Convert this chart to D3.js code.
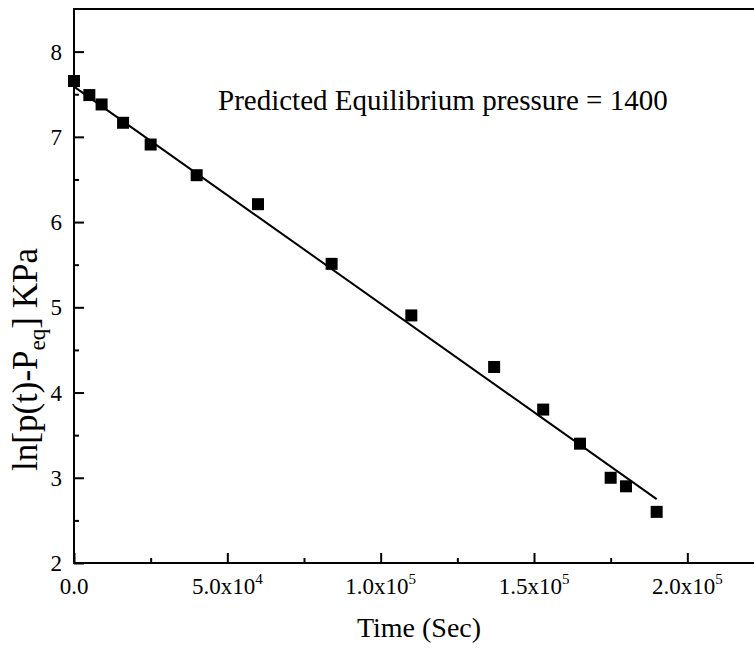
<!DOCTYPE html>
<html><head><meta charset="utf-8">
<script src="https://cdn.jsdelivr.net/npm/d3@7"></script>
<style>
html,body{margin:0;padding:0;background:#fff;}
svg{display:block;}
svg text{font-family:"Liberation Serif","Times New Roman",Times,serif;}
</style></head>
<body>
<svg id="c" width="754" height="648"></svg>
<script>
// Data
const timeSec = [0, 5000, 9000, 16000, 25000, 40000, 60000, 84000, 110000, 137000, 153000, 165000, 175000, 180000, 190000];
const lnP     = [7.655, 7.49, 7.38, 7.165, 6.91, 6.55, 6.21, 5.51, 4.905, 4.30, 3.80, 3.40, 3.00, 2.90, 2.60];
const fitX = [0, 190000];
const fitY = [7.59, 2.75];
const xTicks = [0, 50000, 100000, 150000, 200000];
const xTickMant = ["0.0", "5.0x10", "1.0x10", "1.5x10", "2.0x10"];
const xTickExp  = ["", "4", "5", "5", "5"];
const xMinor = [25000, 75000, 125000, 175000];
const yTicks = [2, 3, 4, 5, 6, 7, 8];
const yMinor = [2.5, 3.5, 4.5, 5.5, 6.5, 7.5];
const annotation = "Predicted Equilibrium pressure = 1400";

const FONT = "Liberation Serif, Times New Roman, serif";
const svg = d3.select("#c");
const L = 74, R = 764, T = 9, B = 563;
const x = d3.scaleLinear().domain([0, 225000]).range([L, R]);
const y = d3.scaleLinear().domain([2, 8.5]).range([B, T]);

// frame
svg.append("rect").attr("x", L).attr("y", T).attr("width", R - L).attr("height", B - T)
  .attr("fill", "none").attr("stroke", "#000").attr("stroke-width", 2);

// x axis ticks (inward)
const gx = svg.append("g").attr("transform", `translate(0,${B})`)
  .call(d3.axisBottom(x).tickValues(xTicks).tickSize(-10).tickFormat(""));
gx.select(".domain").remove();
gx.selectAll("line").attr("stroke-width", 2);
const gxm = svg.append("g").attr("transform", `translate(0,${B})`)
  .call(d3.axisBottom(x).tickValues(xMinor).tickSize(-5).tickFormat(""));
gxm.select(".domain").remove();
gxm.selectAll("line").attr("stroke-width", 2);

// x tick labels with superscripts
xTicks.forEach((v, i) => {
  const t = svg.append("text").attr("x", x(v)).attr("y", 594).attr("font-family", FONT)
    .attr("text-anchor", "middle").attr("font-size", 23).attr("fill", "#000");
  t.append("tspan").text(xTickMant[i]);
  if (xTickExp[i]) t.append("tspan").attr("font-size", 15).attr("dy", -10).text(xTickExp[i]);
});

// y axis ticks (inward)
const gy = svg.append("g").attr("transform", `translate(${L},0)`)
  .call(d3.axisLeft(y).tickValues(yTicks).tickSize(-10).tickFormat(""));
gy.select(".domain").remove();
gy.selectAll("line").attr("stroke-width", 2);
const gym = svg.append("g").attr("transform", `translate(${L},0)`)
  .call(d3.axisLeft(y).tickValues(yMinor).tickSize(-5).tickFormat(""));
gym.select(".domain").remove();
gym.selectAll("line").attr("stroke-width", 2);
yTicks.forEach(v => {
  svg.append("text").attr("x", 62).attr("y", y(v) + 8).attr("font-family", FONT)
    .attr("text-anchor", "end").attr("font-size", 23).attr("fill", "#000").text(v);
});

// axis titles
svg.append("text").attr("x", 419).attr("y", 637).attr("text-anchor", "middle").attr("font-family", FONT)
  .attr("font-size", 28).attr("fill", "#000").text("Time (Sec)");
const yl = svg.append("text").attr("transform", "translate(37,471) rotate(-90)").attr("font-family", FONT)
  .attr("text-anchor", "start").attr("font-size", 35).attr("fill", "#000");
yl.append("tspan").text("ln[p(t)-P");
yl.append("tspan").attr("font-size", 23).attr("dy", 8).text("eq");
yl.append("tspan").attr("dy", -8).text("] KPa");

// fit line
const line = d3.line().x(d => x(d[0])).y(d => y(d[1]));
svg.append("path").datum(fitX.map((v, i) => [v, fitY[i]]))
  .attr("d", line).attr("fill", "none").attr("stroke", "#000").attr("stroke-width", 2);

// markers
const s = 12;
svg.append("g").selectAll("rect").data(timeSec.map((v, i) => [v, lnP[i]])).join("rect")
  .attr("x", d => x(d[0]) - s / 2).attr("y", d => y(d[1]) - s / 2)
  .attr("width", s).attr("height", s).attr("fill", "#000");

// annotation
svg.append("text").attr("x", 218).attr("y", 110).attr("font-family", FONT)
  .attr("font-size", 29).attr("fill", "#000").text(annotation);
</script>
</body></html>
